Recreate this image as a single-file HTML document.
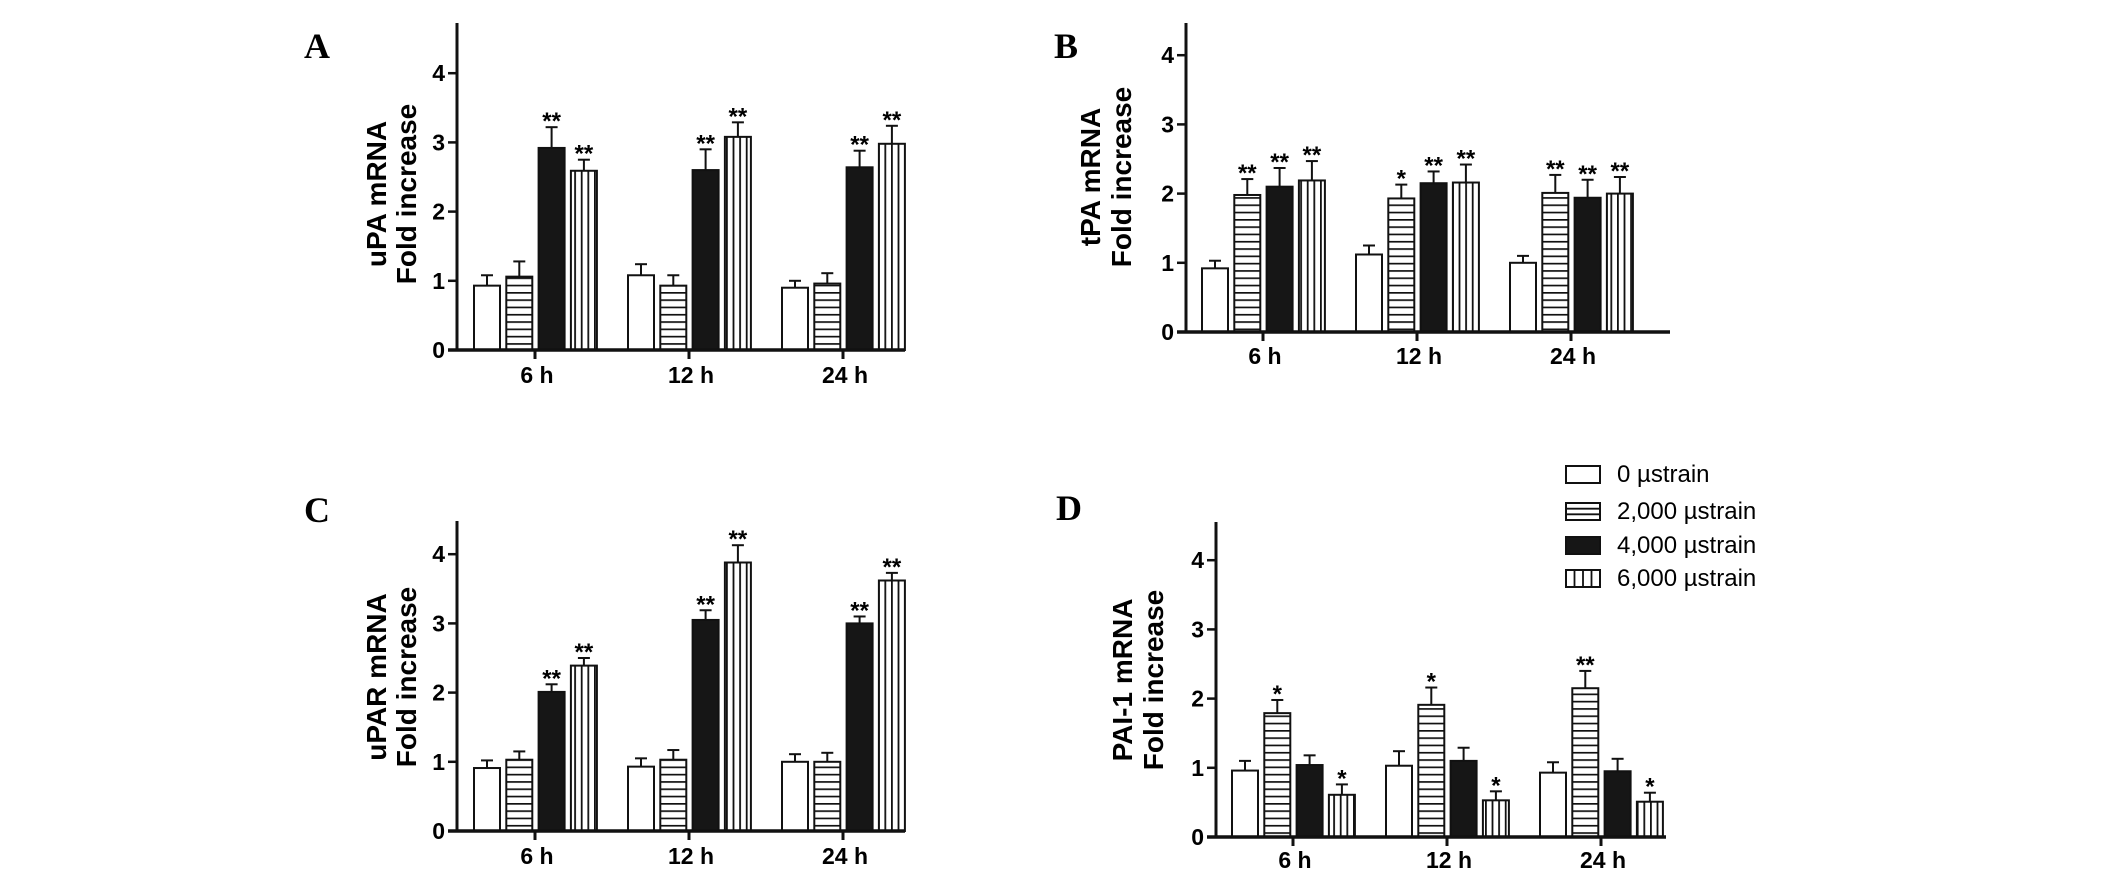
<!DOCTYPE html>
<html><head><meta charset="utf-8"><style>
html,body{margin:0;padding:0;background:#fff;}
svg text{font-family:"Liberation Sans",sans-serif;}
</style></head><body>
<svg id="fig" width="2126" height="880" viewBox="0 0 2126 880" xmlns="http://www.w3.org/2000/svg">
<defs>
<pattern id="hpat" patternUnits="userSpaceOnUse" width="8" height="7.3"><rect width="8" height="7.3" fill="#fff"/><line x1="0" y1="0.8" x2="8" y2="0.8" stroke="#111" stroke-width="1.8"/></pattern>
<pattern id="vpat" patternUnits="userSpaceOnUse" width="6.6" height="8"><rect width="6.6" height="8" fill="#fff"/><line x1="0.9" y1="0" x2="0.9" y2="8" stroke="#111" stroke-width="1.8"/></pattern>
</defs>
</svg>
<script>
const categories = ["6 h", "12 h", "24 h"];
const seriesNames = ["0 µstrain", "2,000 µstrain", "4,000 µstrain", "6,000 µstrain"];
const yTicks = [0, 1, 2, 3, 4];
// Panel A: uPA
const aMeans = [[0.93,1.06,2.92,2.59],[1.08,0.93,2.60,3.08],[0.90,0.96,2.64,2.98]];
const aErrs  = [[0.15,0.22,0.30,0.16],[0.16,0.15,0.30,0.21],[0.10,0.15,0.24,0.26]];
const aStars = [["","","**","**"],["","","**","**"],["","","**","**"]];
// Panel B: tPA
const bMeans = [[0.92,1.98,2.10,2.19],[1.12,1.93,2.15,2.16],[1.00,2.01,1.94,2.00]];
const bErrs  = [[0.11,0.23,0.27,0.28],[0.13,0.20,0.17,0.26],[0.10,0.26,0.26,0.24]];
const bStars = [["","**","**","**"],["","*","**","**"],["","**","**","**"]];
// Panel C: uPAR
const cMeans = [[0.91,1.03,2.01,2.39],[0.93,1.03,3.05,3.88],[1.00,1.00,3.00,3.62]];
const cErrs  = [[0.11,0.12,0.11,0.11],[0.12,0.14,0.14,0.25],[0.11,0.13,0.10,0.11]];
const cStars = [["","","**","**"],["","","**","**"],["","","**","**"]];
// Panel D: PAI-1
const dMeans = [[0.96,1.79,1.04,0.61],[1.03,1.91,1.10,0.53],[0.93,2.15,0.95,0.51]];
const dErrs  = [[0.14,0.19,0.14,0.15],[0.21,0.25,0.19,0.13],[0.15,0.25,0.18,0.13]];
const dStars = [["","*","","*"],["","*","","*"],["","**","","*"]];

const svg = document.getElementById('fig');
const NS = "http://www.w3.org/2000/svg";
function mk(tag, attrs, parent){ const e=document.createElementNS(NS,tag); for(const k in attrs) e.setAttribute(k,attrs[k]); (parent||svg).appendChild(e); return e; }
const fills = ["#fff","url(#hpat)","#161616","url(#vpat)"];

const panels = [
 {key:"a", letter:"A", lx:304, ly:58, ax:457, base:350, top:23, xEnd:905, g0:535, t1:"uPA mRNA", tx1:386, tx2:416, tcy:194, means:aMeans, errs:aErrs, stars:aStars, lblY:383},
 {key:"b", letter:"B", lx:1054, ly:58, ax:1186, base:332, top:23, xEnd:1670, g0:1263, t1:"tPA mRNA", tx1:1100, tx2:1131, tcy:177, means:bMeans, errs:bErrs, stars:bStars, lblY:364},
 {key:"c", letter:"C", lx:304, ly:522, ax:457, base:831, top:521, xEnd:905, g0:535, t1:"uPAR mRNA", tx1:386, tx2:416, tcy:677, means:cMeans, errs:cErrs, stars:cStars, lblY:864},
 {key:"d", letter:"D", lx:1056, ly:520, ax:1216, base:837, top:522, xEnd:1666, g0:1293, t1:"PAI-1 mRNA", tx1:1132, tx2:1163, tcy:680, means:dMeans, errs:dErrs, stars:dStars, lblY:868}
];
const unit = 69.2, gSp = 154, bw = 26, pitch = 32.3;

panels.forEach(p=>{
  const g = mk('g',{});
  
  
  const yS = v => p.base - v*unit;
  const xG = i => p.g0 + i*gSp;
  const lt = mk('text',{x:p.lx,y:p.ly,'font-size':36,'font-weight':'bold',style:'font-family:"Liberation Serif",serif'},g);
  lt.textContent = p.letter;
  
  
  const tt = mk('text',{transform:`translate(${p.tx1},${p.tcy}) rotate(-90)`,'text-anchor':'middle','font-size':28,'font-weight':'bold'},g);
  tt.textContent = p.t1;
  
  
  const tt2 = mk('text',{transform:`translate(${p.tx2},${p.tcy}) rotate(-90)`,'text-anchor':'middle','font-size':28,'font-weight':'bold'},g);
  tt2.textContent = "Fold increase";
  
  
  p.means.forEach((row,gi)=>{
    row.forEach((v,si)=>{
      const x = xG(gi) - 61 + si*pitch;
      const cx = x + bw/2;
      const eTop = yS(v + p.errs[gi][si]);
      const el = mk('line',{x1:cx,y1:yS(v),x2:cx,y2:eTop,stroke:'#111','stroke-width':2},g);
      
      
      const cap = mk('line',{x1:cx-6,y1:eTop,x2:cx+6,y2:eTop,stroke:'#111','stroke-width':2},g);
      
      
      const r = mk('rect',{x:x,y:yS(v),width:bw,height:p.base-yS(v),fill:fills[si],stroke:'#111','stroke-width':2},g);
      
      
      const s = p.stars[gi][si];
      if(s){
        const st = mk('text',{x:cx,y:eTop+2,'text-anchor':'middle','font-size':24,'font-weight':'bold'},g);
        st.textContent = s;
        
        
      }
    });
    const tk = mk('line',{x1:xG(gi),y1:p.base,x2:xG(gi),y2:p.base+9,stroke:'#111','stroke-width':3},g);
    
    
    const xl = mk('text',{x:xG(gi)+2,y:p.lblY,'text-anchor':'middle','font-size':23,'font-weight':'bold'},g);
    xl.textContent = categories[gi];
    
    
  });
  const ya = mk('line',{x1:p.ax,y1:p.top,x2:p.ax,y2:p.base+1.5,stroke:'#111','stroke-width':3},g);
  
  
  const xa = mk('line',{x1:p.ax-9,y1:p.base,x2:p.xEnd,y2:p.base,stroke:'#111','stroke-width':3.5},g);
  
  
  yTicks.forEach(t=>{
    const tl = mk('line',{x1:p.ax-9,y1:yS(t),x2:p.ax,y2:yS(t),stroke:'#111','stroke-width':2.5},g);
    
    
    const tx = mk('text',{x:p.ax-12,y:yS(t)+8,'text-anchor':'end','font-size':23,'font-weight':'bold'},g);
    tx.textContent = t;
    
    
  });
});

const lg = mk('g',{});


const legTops = [466, 503, 537, 570];
seriesNames.forEach((n,i)=>{
  const e = mk('g',{},lg);
  
  
  const y = legTops[i];
  mk('rect',{x:1566,y:y,width:34,height:17,fill:i===2?'#161616':'#fff',stroke:'#111','stroke-width':2},e);
  if(i===1){ [y+5.7,y+11.3].forEach(yy=>mk('line',{x1:1566,y1:yy,x2:1600,y2:yy,stroke:'#111','stroke-width':1.8},e)); }
  if(i===3){ [1574.5,1583,1591.5].forEach(xx=>mk('line',{x1:xx,y1:y,x2:xx,y2:y+17,stroke:'#111','stroke-width':1.8},e)); }
  const t = mk('text',{x:1617,y:y+16,'font-size':24},e);
  t.textContent = n;
});
</script>
</body></html>
